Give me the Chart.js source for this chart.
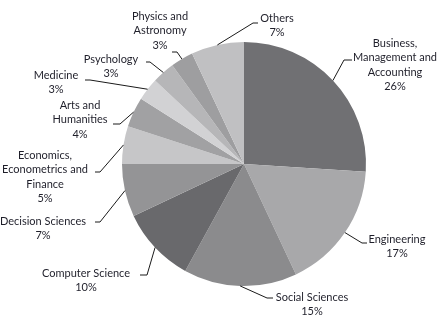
<!DOCTYPE html>
<html>
<head>
<meta charset="utf-8">
<script src="https://cdn.jsdelivr.net/npm/chart.js@4"></script>
<style>
  html, body { margin: 0; padding: 0; background: #fff; }
  #chart { display: block; }
</style>
</head>
<body>
<canvas id="chart" width="442" height="316"></canvas>
<script>
// subject areas, clockwise from 12 o'clock
const subjects = [
  'Business,\nManagement and\nAccounting',
  'Engineering',
  'Social Sciences',
  'Computer Science',
  'Decision Sciences',
  'Economics,\nEconometrics and\nFinance',
  'Arts and\nHumanities',
  'Medicine',
  'Psychology',
  'Physics and\nAstronomy',
  'Others'
];
const shares = [26, 17, 15, 10, 7, 5, 4, 3, 3, 3, 7];

const sliceColors = [
  '#707073', '#a8a8aa', '#8b8b8d', '#69696c', '#949496', '#c6c6c8',
  '#a1a1a3', '#d2d2d4', '#b6b6b8', '#9e9ea0', '#c0c0c2'
];

// leader line elbow, tail end and first text line, relative to the pie centre
const calloutLayout = [
  { elbow: [100, -104], tail: [108, -104], text: [151, -121] },
  { elbow: [118, 79],   tail: [123, 79],   text: [153, 75] },
  { elbow: [23, 134],   tail: [29, 134],   text: [68, 133] },
  { elbow: [-97, 111],  tail: [-104, 111], text: [-158, 109] },
  { elbow: [-144, 58],  tail: [-149, 58],  text: [-201, 57] },
  { elbow: [-144, 8],   tail: [-149, 8],   text: [-199, -9] },
  { elbow: [-124, -40], tail: [-131, -40], text: [-164, -59] },
  { elbow: [-154, -84], tail: [-159, -84], text: [-188, -89] },
  { elbow: [-94, -102], tail: [-98, -102], text: [-133, -105] },
  { elbow: [-67, -112], tail: [-72, -112], text: [-84, -148] },
  { elbow: [9, -141],   tail: [14, -141],  text: [33, -146] }
];

const LINE_H = 14.5;

const callouts = {
  id: 'callouts',
  afterDatasetsDraw(chart) {
    const ctx = chart.ctx;
    const meta = chart.getDatasetMeta(0);
    ctx.save();
    ctx.strokeStyle = '#1a1a1a';
    ctx.lineWidth = 1;
    ctx.fillStyle = '#1f1f2a';
    ctx.font = '11px Lato, "Open Sans", sans-serif';
    ctx.textAlign = 'center';
    ctx.textBaseline = 'middle';
    meta.data.forEach((arc, i) => {
      const p = arc.getProps(['x', 'y', 'startAngle', 'endAngle', 'outerRadius'], true);
      const mid = (p.startAngle + p.endAngle) / 2;
      const ex = p.x + p.outerRadius * Math.cos(mid);
      const ey = p.y + p.outerRadius * Math.sin(mid);
      const L = calloutLayout[i];
      ctx.beginPath();
      ctx.moveTo(ex, ey);
      ctx.lineTo(p.x + L.elbow[0], p.y + L.elbow[1]);
      ctx.lineTo(p.x + L.tail[0], p.y + L.tail[1]);
      ctx.stroke();
      const lines = subjects[i].split('\n').concat(shares[i] + '%');
      lines.forEach((t, k) => {
        ctx.fillText(t, p.x + L.text[0], p.y + L.text[1] + k * LINE_H);
      });
    });
    ctx.restore();
  }
};

new Chart(document.getElementById('chart'), {
  type: 'pie',
  data: {
    labels: subjects,
    datasets: [{
      data: shares,
      backgroundColor: sliceColors,
      borderWidth: 0
    }]
  },
  options: {
    responsive: false,
    animation: false,
    layout: { padding: { left: 122, right: 76, top: 42, bottom: 30 } },
    plugins: {
      legend: { display: false },
      tooltip: { enabled: false }
    }
  },
  plugins: [callouts]
});
</script>
</body>
</html>
